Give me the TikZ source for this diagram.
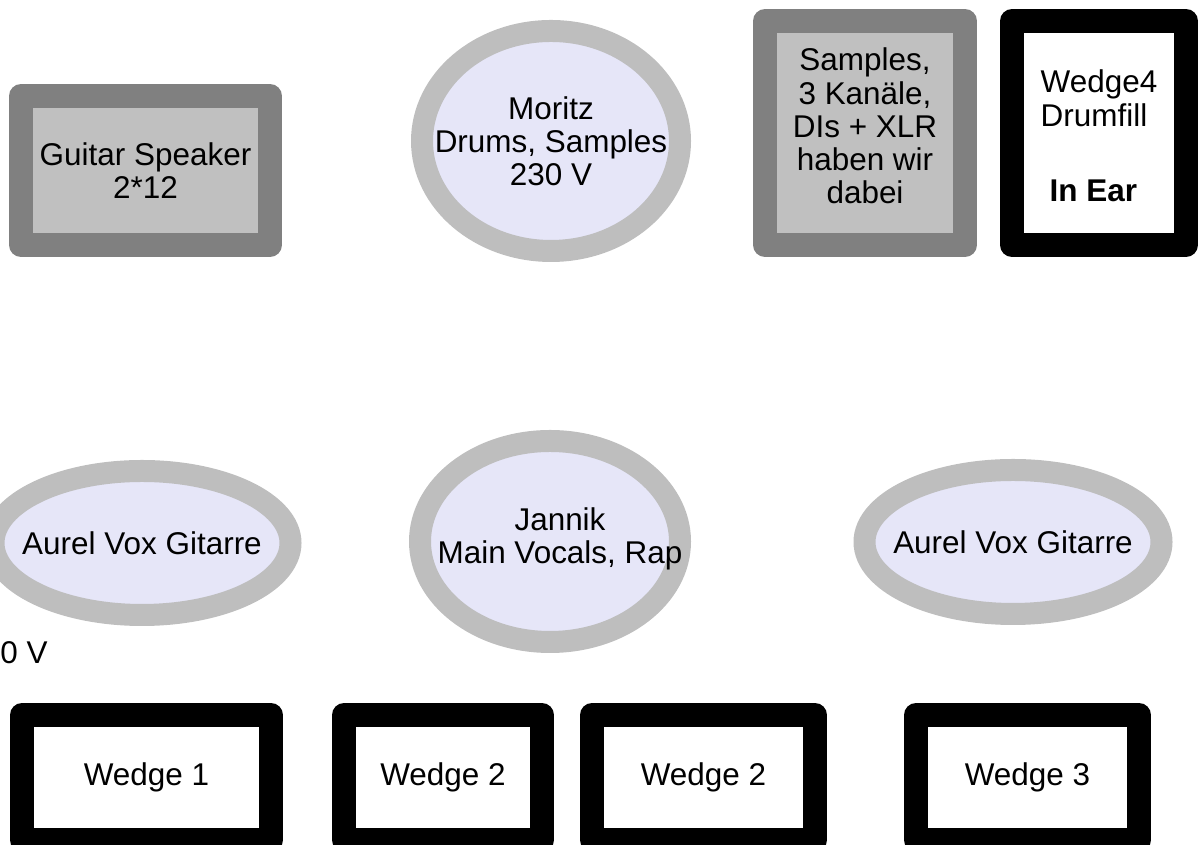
\documentclass[tikz,border=0pt]{standalone}
\usepackage{fontspec}
\setmainfont{Liberation Sans}
\usetikzlibrary{shapes.geometric}
\definecolor{StageDark}{HTML}{808080}
\definecolor{StageLight}{HTML}{C0C0C0}
\definecolor{StageRing}{HTML}{BEBEBE}
\definecolor{StageLilac}{HTML}{E6E6F8}
\tikzset{
  stage text/.style={font=\fontsize{17.9}{18.9}\selectfont,align=center,inner sep=0pt},
  amp box/.style={stage text,draw=StageDark,fill=StageLight,line width=0.48cm,line join=round},
  wedge box/.style={stage text,draw=black,fill=white,line width=0.48cm,line join=round},
  player ring/.style={ellipse,draw=StageRing,fill=StageLilac,line width=0.44cm,inner sep=0pt}
}

\begin{document}
\begin{tikzpicture}[x=1cm,y=1cm]

        \useasboundingbox (0,0) rectangle (24,16.9);
        \clip (0,0) rectangle (24,16.9);

        % back line
        \node[amp box,minimum width=4.98cm,minimum height=2.98cm]
          (guitarSpk) at (2.91,13.49) {Guitar Speaker\\2*12};

        \node[player ring,minimum width=5.16cm,minimum height=4.40cm]
          (moritz) at (11.02,14.08) {};
        \node[stage text] (moritzTxt) at (moritz) {Moritz\\Drums, Samples\\230 V};

        \node[amp box,minimum width=4.0cm,minimum height=4.48cm]
          (samples) at (17.30,14.24) {};
        \node[stage text] (samplesTxt) at ([yshift=0.14cm]samples)
          {Samples,\\3 Kanäle,\\DIs + XLR\\haben wir\\dabei};

        \node[wedge box,align=left,minimum width=3.48cm,minimum height=4.48cm]
          (wedgeFour) at (21.98,14.24) {};
        \node[stage text,align=left] (wedgeFourTxt) at ([yshift=-0.06cm]wedgeFour)
          {Wedge4\\Drumfill\\[24pt]\hspace{0.18cm}\textbf{In Ear}};

        % front line
        \node[player ring,minimum width=5.94cm,minimum height=2.88cm]
          (aurelL) at (2.84,6.04) {};
        \node[stage text] (aurelLTxt) at (aurelL) {Aurel Vox Gitarre};

        \node[player ring,minimum width=5.2cm,minimum height=4.02cm]
          (jannik) at (11.0,6.07) {};
        \node[stage text] (jannikTxt) at (11.2,6.12) {Jannik\\Main Vocals, Rap};

        \node[player ring,minimum width=5.94cm,minimum height=2.88cm]
          (aurelR) at (20.26,6.06) {};
        \node[stage text] (aurelRTxt) at (aurelR) {Aurel Vox Gitarre};

        \node[stage text,anchor=west] (voltL) at (0,3.84) {0 V};

        % wedges
        \node[wedge box,minimum width=4.98cm,minimum height=2.50cm]
          (wedgeOne) at (2.93,1.35) {Wedge 1};
        \node[wedge box,minimum width=3.96cm,minimum height=2.50cm]
          (wedgeTwoA) at (8.86,1.35) {Wedge 2};
        \node[wedge box,minimum width=4.46cm,minimum height=2.50cm]
          (wedgeTwoB) at (14.07,1.35) {Wedge 2};
        \node[wedge box,minimum width=4.46cm,minimum height=2.50cm]
          (wedgeThree) at (20.55,1.35) {Wedge 3};

      \end{tikzpicture}
\end{document}
